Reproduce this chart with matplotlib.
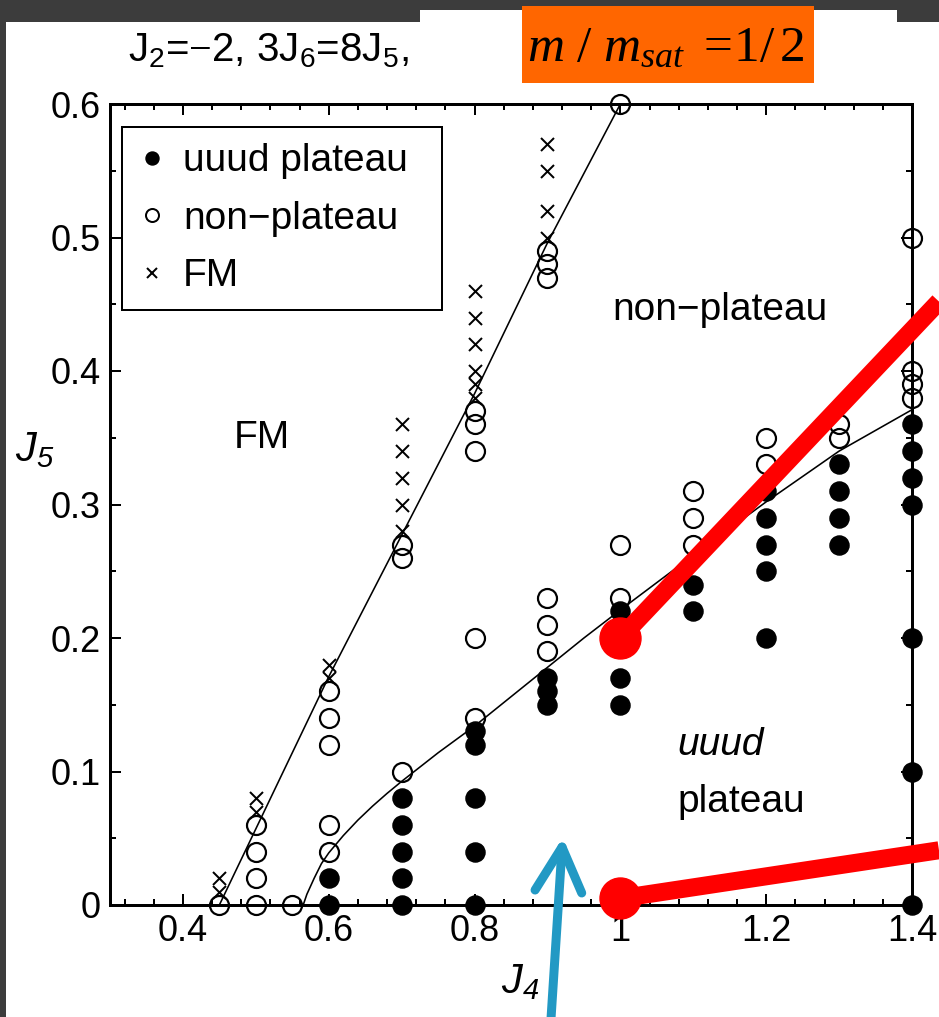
import matplotlib
matplotlib.use("Agg")
import matplotlib.pyplot as plt
import matplotlib.ticker as mticker
from matplotlib.lines import Line2D
from matplotlib.patches import Rectangle

# ---------------- data ----------------
# uuud plateau (filled circles)
plateau_x = [0.6, 0.6,
             0.7, 0.7, 0.7, 0.7, 0.7,
             0.8, 0.8, 0.8, 0.8, 0.8,
             0.9, 0.9, 0.9,
             1.0, 1.0, 1.0, 1.0,
             1.1, 1.1,
             1.2, 1.2, 1.2, 1.2, 1.2,
             1.3, 1.3, 1.3, 1.3,
             1.4, 1.4, 1.4, 1.4, 1.4, 1.4, 1.4]
plateau_y = [0.02, 0.0,
             0.08, 0.06, 0.04, 0.02, 0.0,
             0.13, 0.12, 0.08, 0.04, 0.0,
             0.17, 0.16, 0.15,
             0.22, 0.20, 0.17, 0.15,
             0.24, 0.22,
             0.31, 0.29, 0.27, 0.25, 0.20,
             0.33, 0.31, 0.29, 0.27,
             0.36, 0.34, 0.32, 0.30, 0.20, 0.10, 0.0]

# non-plateau (open circles)
nonplat_x = [0.45,
             0.5, 0.5, 0.5, 0.5,
             0.55,
             0.6, 0.6, 0.6, 0.6, 0.6,
             0.7, 0.7, 0.7,
             0.8, 0.8, 0.8, 0.8, 0.8,
             0.9, 0.9, 0.9, 0.9, 0.9, 0.9,
             1.0, 1.0, 1.0,
             1.1, 1.1, 1.1,
             1.2, 1.2,
             1.3, 1.3,
             1.4, 1.4, 1.4, 1.4]
nonplat_y = [0.0,
             0.06, 0.04, 0.02, 0.0,
             0.0,
             0.16, 0.14, 0.12, 0.06, 0.04,
             0.27, 0.26, 0.10,
             0.37, 0.36, 0.34, 0.20, 0.14,
             0.49, 0.48, 0.47, 0.23, 0.21, 0.19,
             0.60, 0.27, 0.23,
             0.31, 0.29, 0.27,
             0.35, 0.33,
             0.36, 0.35,
             0.50, 0.40, 0.39, 0.38]

# ferromagnetic (crosses)
fm_x = [0.45, 0.45,
        0.5, 0.5,
        0.6, 0.6,
        0.7, 0.7, 0.7, 0.7, 0.7,
        0.8, 0.8, 0.8, 0.8, 0.8, 0.8,
        0.9, 0.9, 0.9, 0.9]
fm_y = [0.02, 0.01,
        0.08, 0.07,
        0.18, 0.17,
        0.36, 0.34, 0.32, 0.30, 0.28,
        0.46, 0.44, 0.42, 0.40, 0.39, 0.38,
        0.57, 0.55, 0.52, 0.50]

# phase boundaries
fm_bound_x = [0.45, 0.5, 0.6, 0.7, 0.8, 0.9, 1.0]
fm_bound_y = [0.0, 0.057, 0.171, 0.277, 0.383, 0.496, 0.6]
uuud_bound_x = [0.565, 0.57, 0.58, 0.59, 0.6, 0.62, 0.64, 0.66, 0.68, 0.7,
                0.75, 0.8, 0.85, 0.9, 0.95, 1.0, 1.1, 1.2, 1.3, 1.4]
uuud_bound_y = [0.0, 0.008, 0.02, 0.031, 0.039, 0.052, 0.0636, 0.074, 0.0836, 0.0926,
                0.114, 0.134, 0.156, 0.178, 0.2, 0.221, 0.262, 0.302, 0.34, 0.371]

x_ticks = [0.4, 0.6, 0.8, 1.0, 1.2, 1.4]
x_tick_labels = ["0.4", "0.6", "0.8", "1", "1.2", "1.4"]
y_ticks = [0.0, 0.1, 0.2, 0.3, 0.4, 0.5, 0.6]
y_tick_labels = ["0", "0.1", "0.2", "0.3", "0.4", "0.5", "0.6"]

# highlighted points
mark_x = [1.0, 1.0]
mark_y = [0.2, 0.0]

# ---------------- style ----------------
plt.rcParams["font.family"] = ["Liberation Sans", "DejaVu Sans"]
plt.rcParams["mathtext.fontset"] = "custom"
plt.rcParams["mathtext.rm"] = "Liberation Serif"
plt.rcParams["mathtext.it"] = "Liberation Serif:italic"

W, H = 939, 1017
PT = 72 / 100  # points per pixel at dpi=100

fig = plt.figure(figsize=(W / 100, H / 100), dpi=100)
fig.patch.set_facecolor("white")


def fpx(x, y):
    """pixel position (from top-left) -> figure fraction"""
    return x / W, 1 - y / H


def frect(x0, y0, x1, y1, color, z=0):
    fx0, fy1 = fpx(x0, y1)
    r = Rectangle((fx0, fy1), (x1 - x0) / W, (y1 - y0) / H,
                  transform=fig.transFigure, facecolor=color,
                  edgecolor="none", zorder=z)
    fig.add_artist(r)


# dark window frame
frame_col = "#3c3c3c"
frect(0, 0, W, 22, frame_col)
frect(420, 10, 897, 22, "white", z=1)
frect(0, 0, 6, H, frame_col)

ax = fig.add_axes([110 / W, 1 - 905 / H, 802 / W, 801 / H])
ax.set_xlim(0.3, 1.4)
ax.set_ylim(0.0, 0.6)

ax.set_xticks(x_ticks)
ax.set_xticklabels(x_tick_labels)
ax.set_yticks(y_ticks)
ax.set_yticklabels(y_tick_labels)
ax.xaxis.set_minor_locator(mticker.MultipleLocator(0.04))
ax.yaxis.set_minor_locator(mticker.MultipleLocator(0.05))
ax.tick_params(which="both", direction="in", top=True, right=True,
               width=2 * PT, color="black")
ax.tick_params(which="major", length=11 * PT, labelsize=26, pad=9 * PT)
ax.tick_params(which="minor", length=6 * PT)
for s in ax.spines.values():
    s.set_linewidth(3 * PT)

# phase boundaries
ax.plot(fm_bound_x, fm_bound_y, color="black", lw=1.6 * PT, zorder=2)
ax.plot(uuud_bound_x, uuud_bound_y, color="black", lw=1.6 * PT, zorder=2)

# data points
ms = 19 * PT
ax.plot(plateau_x, plateau_y, "o", ms=ms, mfc="black", mec="black",
        mew=1.5 * PT, ls="none", clip_on=False, zorder=4)
ax.plot(nonplat_x, nonplat_y, "o", ms=ms, mfc="none", mec="black",
        mew=2.2 * PT, ls="none", clip_on=False, zorder=4)
ax.plot(fm_x, fm_y, "x", ms=13 * PT, mec="black", mew=2.0 * PT,
        ls="none", clip_on=False, zorder=4)

# legend
handles = [
    Line2D([], [], marker="o", ls="none", ms=13 * PT, mfc="black", mec="black"),
    Line2D([], [], marker="o", ls="none", ms=13 * PT, mfc="none", mec="black",
           mew=2 * PT),
    Line2D([], [], marker="x", ls="none", ms=10 * PT, mec="black", mew=2 * PT),
]
leg = ax.legend(handles, ["uuud plateau", "non\u2212plateau", "FM"],
                loc="upper left", bbox_to_anchor=(12 / 802, 778 / 801, 320 / 802, 0.0),
                mode="expand", borderaxespad=0, fontsize=28, frameon=True,
                fancybox=False, edgecolor="black", framealpha=1,
                handlelength=0.7, handletextpad=0.45, labelspacing=0.55,
                borderpad=0.42)
leg.get_frame().set_linewidth(2 * PT)

# region labels
ax.text(0.508, 0.35, "FM", fontsize=28, ha="center", va="center")
ax.text(1.136, 0.446, "non\u2212plateau", fontsize=28, ha="center", va="center")
ax.text(1.078, 0.12, "uuud", fontsize=28, style="italic", ha="left", va="center")
ax.text(1.078, 0.077, "plateau", fontsize=28, ha="left", va="center")

# axis labels
ax.set_ylabel(r"$\mathregular{J_5}$", fontsize=30, style="italic",
              rotation=0, ha="center", va="center")
ax.yaxis.set_label_coords(-75 / 802, 455 / 801)
ax.set_xlabel(r"$\mathregular{J_4}$", fontsize=30, style="italic",
              ha="center", va="center")
ax.xaxis.set_label_coords(410 / 802, -77 / 801)

# header
fig.text(*fpx(128, 51), r"$\mathregular{J_2}$=$-$2, 3$\mathregular{J_6}$=8$\mathregular{J_5}$,",
         fontsize=29, ha="left", va="center")
frect(522, 6, 814, 83, "#ff6600", z=2)
fig.text(*fpx(666, 61), r"$m\ /\ m_{sat}\ =\!1/\,2$", fontsize=37,
         ha="center", va="baseline", zorder=3)

# highlight markers and connecting strokes
red = "#ff0000"
ax.plot([mark_x[0], 1.437], [mark_y[0], 0.452], color=red, lw=18 * PT,
        solid_capstyle="butt", clip_on=False, zorder=6)
ax.plot([mark_x[1], 1.437], [mark_y[1] + 0.005, 0.041], color=red, lw=18 * PT,
        solid_capstyle="butt", clip_on=False, zorder=6)
ax.plot(mark_x, [mark_y[0], mark_y[1] + 0.005], "o", ms=41 * PT, mfc=red, mec=red,
        ls="none", clip_on=False, zorder=7)

# arrow
blue = "#2299c4"
ax.plot([0.905, 0.92], [-0.084, 0.0434], color=blue, lw=9 * PT,
        solid_capstyle="round", clip_on=False, zorder=6)
ax.plot([0.883, 0.92, 0.947], [0.0112, 0.0434, 0.009], color=blue, lw=9 * PT,
        solid_capstyle="round", solid_joinstyle="round", clip_on=False, zorder=6)

fig.savefig("out.png", dpi=100)
